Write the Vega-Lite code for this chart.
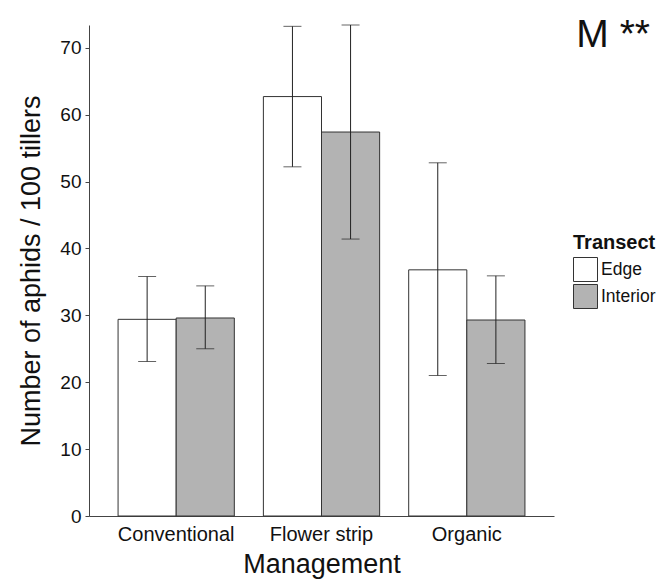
{
  "$schema": "https://vega.github.io/schema/vega-lite/v6.json",
  "autosize": {"type": "none"},
  "width": 465,
  "height": 491,
  "padding": {"left": 89, "top": 25, "right": 106, "bottom": 65},
  "background": "white",
  "config": {
    "view": {"stroke": null},
    "font": "Liberation Sans",
    "axis": {"grid": false, "domainColor": "#444444", "tickColor": "#444444", "labelColor": "#111111", "titleColor": "#111111", "titleFontWeight": "normal", "titleFontSize": 27, "labelFontSize": 19, "labelFont": "Liberation Sans", "titleFont": "Liberation Sans"}
  },
  "title": {"text": "M **", "fontSize": 39, "fontWeight": "normal", "font": "Liberation Sans", "color": "#111111", "anchor": "end", "frame": "group", "dx": 96, "dy": 61, "offset": 0, "baseline": "alphabetic"},
  "data": {
    "values": [
      {"Management": "Conventional", "Transect": "Edge", "mean": 29.4, "lower": 23.1, "upper": 35.8},
      {"Management": "Conventional", "Transect": "Interior", "mean": 29.6, "lower": 25.0, "upper": 34.4},
      {"Management": "Flower strip", "Transect": "Edge", "mean": 62.7, "lower": 52.2, "upper": 73.2},
      {"Management": "Flower strip", "Transect": "Interior", "mean": 57.4, "lower": 41.4, "upper": 73.4},
      {"Management": "Organic", "Transect": "Edge", "mean": 36.8, "lower": 21.0, "upper": 52.8},
      {"Management": "Organic", "Transect": "Interior", "mean": 29.3, "lower": 22.8, "upper": 35.9}
    ]
  },
  "encoding": {
    "x": {"field": "Management", "type": "nominal", "sort": ["Conventional", "Flower strip", "Organic"],
      "scale": {"paddingInner": 0.2, "paddingOuter": 0.2},
      "axis": {"title": "Management", "labelAngle": 0, "ticks": false, "labelPadding": 8, "titlePadding": 7, "labelFontSize": 20}},
    "xOffset": {"field": "Transect", "type": "nominal", "sort": ["Edge", "Interior"], "scale": {"paddingInner": 0, "paddingOuter": 0}}
  },
  "layer": [
    {
      "mark": {"type": "bar", "stroke": "#333333", "strokeWidth": 1},
      "encoding": {
        "y": {"field": "mean", "type": "quantitative", "scale": {"domain": [0, 73.4], "nice": false, "zero": true},
          "axis": {"title": "Number of aphids / 100 tillers", "values": [0, 10, 20, 30, 40, 50, 60, 70], "tickSize": 4, "labelPadding": 4, "titlePadding": 14}},
        "color": {"field": "Transect", "type": "nominal", "sort": ["Edge", "Interior"],
          "scale": {"domain": ["Edge", "Interior"], "range": ["#ffffff", "#b3b3b3"]},
          "legend": {"title": "Transect", "orient": "none", "legendX": 484, "legendY": 208, "titleFontSize": 20, "titleFontWeight": "bold", "titleColor": "#111111", "labelFontSize": 17.5, "labelColor": "#111111", "symbolType": "square", "symbolSize": 576, "symbolStrokeColor": "#333333", "symbolStrokeWidth": 1, "symbolOpacity": 1, "rowPadding": -2, "labelOffset": 3, "titlePadding": 4, "padding": 0}}
      }
    },
    {
      "mark": {"type": "rule", "color": "#222222", "strokeWidth": 1},
      "encoding": {
        "y": {"field": "lower", "type": "quantitative"},
        "y2": {"field": "upper"}
      }
    },
    {
      "mark": {"type": "tick", "color": "#222222", "thickness": 1, "orient": "horizontal"},
      "encoding": {
        "y": {"field": "upper", "type": "quantitative"},
        "size": {"value": 18}
      }
    },
    {
      "mark": {"type": "tick", "color": "#222222", "thickness": 1, "orient": "horizontal"},
      "encoding": {
        "y": {"field": "lower", "type": "quantitative"},
        "size": {"value": 18}
      }
    }
  ]
}
